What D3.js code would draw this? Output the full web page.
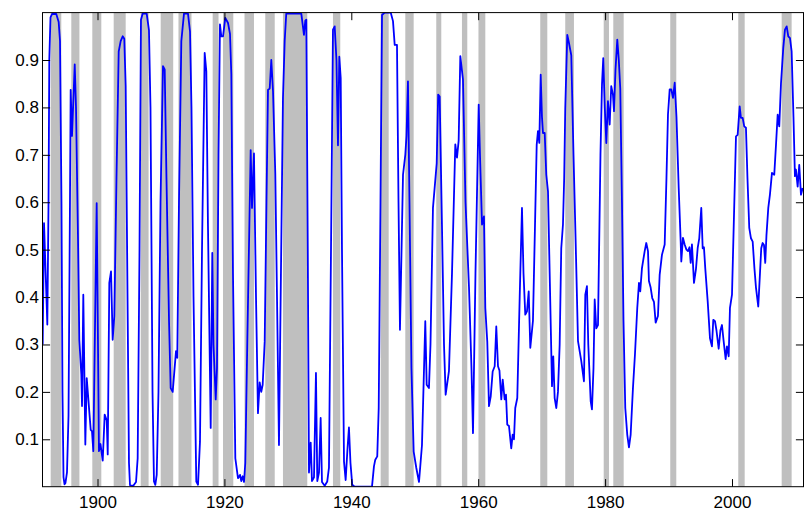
<!DOCTYPE html>
<html><head><meta charset="utf-8">
<script src="https://cdn.jsdelivr.net/npm/d3@7"></script>
<style>
body{margin:0;background:#fff}
svg{display:block}
text{font-family:"Liberation Sans",Arial,sans-serif}
</style>
</head><body>
<svg id="c" width="804" height="511"></svg>
<script>
// ---- data (year, probability) ----
const p1890s = [[1891.36,0.30],[1891.57,0.556],[1892.09,0.342],[1892.28,0.60],[1892.40,0.90],[1892.59,0.99],[1892.83,0.997],[1893.50,0.997],[1893.88,0.98],[1894.09,0.94],[1894.32,0.60],[1894.48,0.20],[1894.64,0.02],[1894.80,0.005],[1894.95,0.008],[1895.19,0.03],[1895.43,0.15],[1895.66,0.60],[1895.77,0.837],[1895.98,0.74],[1896.41,0.891],[1896.61,0.80],[1896.93,0.52],[1897.13,0.31],[1897.45,0.236],[1897.56,0.17],[1897.76,0.405],[1898.08,0.089],[1898.30,0.229],[1898.93,0.12],[1899.13,0.117],[1899.34,0.075],[1899.87,0.598]];
const p1900s = [[1900.23,0.075],[1900.47,0.09],[1900.82,0.055],[1901.13,0.152],[1901.45,0.14],[1901.61,0.068],[1901.86,0.43],[1902.13,0.454],[1902.39,0.31],[1902.65,0.36],[1902.99,0.65],[1903.34,0.918],[1903.65,0.94],[1903.97,0.95],[1904.22,0.945],[1904.44,0.845],[1904.73,0.40],[1904.96,0.05],[1905.12,0.003],[1905.64,0.002],[1906.07,0.01],[1906.33,0.06],[1906.62,0.50],[1906.85,0.985],[1907.12,0.998],[1907.75,0.998],[1908.11,0.963],[1908.35,0.80],[1908.67,0.20],[1908.90,0.011],[1909.11,0.004],[1909.33,0.025],[1909.61,0.20],[1909.93,0.60]];
const p1910s = [[1910.32,0.887],[1910.59,0.88],[1910.87,0.65],[1911.27,0.35],[1911.53,0.208],[1911.85,0.20],[1912.37,0.286],[1912.57,0.272],[1912.84,0.60],[1913.21,0.94],[1913.63,0.998],[1914.26,0.998],[1914.58,0.96],[1914.81,0.80],[1915.13,0.40],[1915.57,0.011],[1915.84,0.004],[1916.15,0.095],[1916.47,0.50],[1916.89,0.915],[1917.15,0.876],[1917.41,0.55],[1917.84,0.124],[1918.09,0.493],[1918.28,0.30],[1918.63,0.184],[1918.83,0.25],[1919.07,0.70],[1919.30,0.975],[1919.51,0.95],[1919.78,0.95]];
const p1920s = [[1920.14,0.989],[1920.57,0.978],[1920.88,0.955],[1921.09,0.87],[1921.35,0.45],[1921.72,0.06],[1922.14,0.018],[1922.46,0.025],[1922.66,0.012],[1922.88,0.022],[1923.09,0.01],[1923.29,0.05],[1923.61,0.306],[1924.14,0.71],[1924.35,0.588],[1924.66,0.703],[1924.98,0.40],[1925.29,0.155],[1925.56,0.22],[1925.81,0.20],[1926.03,0.215],[1926.35,0.306],[1926.63,0.60],[1926.87,0.837],[1927.14,0.84],[1927.39,0.90],[1927.66,0.835],[1928.02,0.66],[1928.29,0.40],[1928.60,0.088],[1928.97,0.52],[1929.23,0.82],[1929.50,0.94],[1929.75,0.998]];
const p1930s = [[1932.12,0.998],[1932.54,0.953],[1932.75,0.983],[1932.91,0.985],[1933.14,0.50],[1933.33,0.03],[1933.60,0.093],[1933.80,0.012],[1934.12,0.02],[1934.43,0.24],[1934.64,0.012],[1934.91,0.03],[1935.17,0.145],[1935.38,0.010],[1935.81,0.002],[1936.21,0.011],[1936.48,0.04],[1936.80,0.50],[1937.11,0.964],[1937.38,0.971],[1937.66,0.90],[1937.90,0.72],[1938.11,0.907],[1938.33,0.862],[1938.53,0.50],[1938.85,0.053],[1939.11,0.014],[1939.40,0.08],[1939.63,0.125],[1939.87,0.05]];
const p1940s = [[1940.15,0.004],[1940.53,0.0],[1943.26,0.0],[1943.57,0.043],[1943.78,0.057],[1944.09,0.064],[1944.32,0.166],[1944.60,0.60],[1944.84,0.995],[1945.26,1.0],[1946.21,1.0],[1946.57,0.982],[1946.84,0.932],[1947.20,0.932],[1947.44,0.60],[1947.67,0.331],[1948.15,0.658],[1948.51,0.70],[1948.70,0.74],[1948.93,0.855],[1949.17,0.60],[1949.48,0.25],[1949.83,0.074]];
const p1950s = [[1950.24,0.04],[1950.67,0.01],[1951.14,0.088],[1951.66,0.349],[1951.88,0.215],[1952.24,0.208],[1952.48,0.30],[1952.87,0.588],[1953.46,0.682],[1953.69,0.827],[1953.93,0.823],[1954.29,0.55],[1954.61,0.30],[1954.87,0.194],[1955.39,0.244],[1955.87,0.45],[1956.39,0.722],[1956.66,0.694],[1956.92,0.73],[1957.18,0.908],[1957.60,0.859],[1958.00,0.60],[1958.55,0.42],[1958.94,0.25],[1959.18,0.113],[1959.57,0.45]];
const p1960s = [[1960.08,0.806],[1960.28,0.70],[1960.60,0.553],[1960.91,0.57],[1961.12,0.377],[1961.43,0.306],[1961.70,0.17],[1961.97,0.19],[1962.28,0.243],[1962.60,0.254],[1962.85,0.338],[1963.12,0.254],[1963.35,0.245],[1963.64,0.184],[1963.86,0.226],[1964.17,0.184],[1964.38,0.194],[1964.58,0.131],[1964.85,0.128],[1965.21,0.081],[1965.43,0.11],[1965.64,0.10],[1965.84,0.166],[1966.16,0.187],[1966.54,0.40],[1966.90,0.588],[1967.14,0.45],[1967.42,0.363],[1967.69,0.37],[1967.96,0.412],[1968.21,0.293],[1968.63,0.35],[1968.95,0.55],[1969.22,0.721],[1969.42,0.75],[1969.63,0.725],[1969.85,0.869]];
const p1970s = [[1970.05,0.78],[1970.21,0.746],[1970.48,0.746],[1970.73,0.658],[1971.00,0.623],[1971.31,0.42],[1971.63,0.212],[1971.83,0.275],[1972.05,0.187],[1972.31,0.166],[1972.57,0.20],[1972.84,0.30],[1973.09,0.503],[1973.36,0.553],[1973.55,0.65],[1973.72,0.798],[1974.04,0.953],[1974.26,0.939],[1974.67,0.91],[1975.02,0.70],[1975.36,0.517],[1975.73,0.307],[1976.25,0.265],[1976.67,0.222],[1976.88,0.405],[1977.14,0.423],[1977.35,0.30],[1977.73,0.18],[1977.93,0.163],[1978.17,0.25],[1978.36,0.395],[1978.61,0.334],[1978.88,0.341],[1979.27,0.70],[1979.51,0.848],[1979.71,0.904],[1979.95,0.80]];
const p1980s = [[1980.19,0.725],[1980.45,0.813],[1980.72,0.764],[1980.97,0.845],[1981.24,0.827],[1981.40,0.792],[1981.64,0.88],[1981.92,0.943],[1982.16,0.90],[1982.39,0.84],[1982.66,0.60],[1982.90,0.35],[1983.18,0.166],[1983.49,0.11],[1983.76,0.083],[1984.03,0.11],[1984.39,0.208],[1984.71,0.28],[1985.07,0.377],[1985.34,0.43],[1985.54,0.412],[1985.81,0.461],[1986.24,0.497],[1986.49,0.514],[1986.76,0.497],[1986.91,0.434],[1987.18,0.42],[1987.43,0.398],[1987.70,0.39],[1987.97,0.346],[1988.33,0.36],[1988.60,0.447],[1988.96,0.489],[1989.39,0.511],[1989.67,0.65],[1989.91,0.785]];
const p1990s = [[1990.18,0.838],[1990.43,0.838],[1990.70,0.82],[1990.97,0.852],[1991.25,0.78],[1991.60,0.63],[1991.91,0.518],[1992.01,0.475],[1992.27,0.525],[1992.54,0.511],[1992.82,0.50],[1993.06,0.497],[1993.30,0.505],[1993.49,0.472],[1993.69,0.511],[1994.01,0.43],[1994.32,0.459],[1994.59,0.503],[1994.84,0.524],[1995.16,0.588],[1995.38,0.503],[1995.58,0.505],[1995.79,0.46],[1996.17,0.391],[1996.53,0.313],[1996.84,0.296],[1997.05,0.352],[1997.32,0.349],[1997.55,0.33],[1997.90,0.291],[1998.18,0.33],[1998.42,0.341],[1998.66,0.31],[1999.00,0.269],[1999.21,0.296],[1999.48,0.275],[1999.68,0.377]];
const p2000s = [[2000.00,0.405],[2000.31,0.57],[2000.63,0.739],[2000.89,0.742],[2001.21,0.802],[2001.41,0.778],[2001.68,0.778],[2001.93,0.76],[2002.20,0.757],[2002.44,0.65],[2002.72,0.546],[2002.99,0.524],[2003.26,0.517],[2003.54,0.46],[2003.78,0.42],[2004.14,0.38],[2004.41,0.45],[2004.61,0.503],[2004.83,0.514],[2005.04,0.51],[2005.24,0.472],[2005.43,0.53],[2005.72,0.588],[2005.98,0.616],[2006.30,0.662],[2006.66,0.658],[2006.93,0.72],[2007.20,0.785],[2007.45,0.76],[2007.72,0.85],[2008.08,0.925],[2008.35,0.964],[2008.62,0.971],[2008.87,0.95],[2009.14,0.946],[2009.40,0.918],[2009.69,0.78],[2009.92,0.655],[2010.08,0.669],[2010.35,0.633],[2010.60,0.679],[2010.87,0.616],[2011.14,0.63]];

// recession periods (start, end) in years
const recessionStart = [1892.62,1895.87,1899.18,1902.55,1906.81,1909.96,1912.76,1918.15,1919.78,1923.17,1926.44,1929.23,1937.11,1944.63,1948.51,1953.39,1957.44,1960.04,1969.78,1973.72,1979.78,1981.29,1990.27,2000.99,2007.83];
const recessionEnd   = [1894.29,1897.15,1900.60,1904.44,1908.05,1911.93,1914.81,1919.07,1921.40,1924.66,1927.93,1933.06,1938.26,1945.89,1949.83,1954.18,1958.28,1961.12,1970.89,1975.09,1980.61,1982.93,1991.22,2002.00,2009.40];

const xTicks = [1900,1920,1940,1960,1980,2000];
const yTicks = [0.1,0.2,0.3,0.4,0.5,0.6,0.7,0.8,0.9];
const xDomain = [1891.33, 2011.27];
const yDomain = [0, 1];

// ---- drawing ----
const series = [].concat(p1890s,p1900s,p1910s,p1920s,p1930s,p1940s,p1950s,p1960s,p1970s,p1980s,p1990s,p2000s);
const L = 42.5, R = 803.5, T = 12.6, B = 486.7;
const svg = d3.select('#c');
const x = d3.scaleLinear().domain(xDomain).range([L, R]);
const y = d3.scaleLinear().domain(yDomain).range([B, T]);

svg.append('defs').append('clipPath').attr('id','clip')
  .append('rect').attr('x',L).attr('y',T).attr('width',R-L).attr('height',B-T);

const plot = svg.append('g').attr('clip-path','url(#clip)');
plot.selectAll('rect.rec').data(recessionStart.map((s,i)=>[s,recessionEnd[i]]))
  .enter().append('rect').attr('class','rec')
  .attr('x',d=>x(d[0])).attr('width',d=>x(d[1])-x(d[0]))
  .attr('y',T).attr('height',B-T)
  .attr('fill','#bfbfbf');

const line = d3.line().x(d=>x(d[0])).y(d=>y(d[1]));
plot.append('path').datum(series).attr('d',line)
  .attr('fill','none').attr('stroke','#0000ff').attr('stroke-width',1.8)
  .attr('stroke-linejoin','round');

const tk = 7.6;
const fs = '17px';
const ax = (g)=>{ g.select('.domain').remove(); g.selectAll('line').attr('stroke','#000'); };
svg.append('g').attr('transform',`translate(0,${B})`)
  .call(d3.axisBottom(x).tickValues(xTicks).tickFormat(d3.format('d')).tickSizeInner(-tk).tickSizeOuter(0).tickPadding(9))
  .call(ax).selectAll('text').attr('font-size',fs).attr('fill','#000').attr('font-family','"Liberation Sans",Arial,sans-serif');
svg.append('g').attr('transform',`translate(0,${T})`)
  .call(d3.axisTop(x).tickValues(xTicks).tickFormat('').tickSizeInner(-tk).tickSizeOuter(0))
  .call(ax);
svg.append('g').attr('transform',`translate(${L},0)`)
  .call(d3.axisLeft(y).tickValues(yTicks).tickFormat(d3.format('.1f')).tickSizeInner(-tk).tickSizeOuter(0).tickPadding(3.5))
  .call(ax).selectAll('text').attr('font-size',fs).attr('fill','#000').attr('font-family','"Liberation Sans",Arial,sans-serif');
svg.append('g').attr('transform',`translate(${R},0)`)
  .call(d3.axisRight(y).tickValues(yTicks).tickFormat('').tickSizeInner(-tk).tickSizeOuter(0))
  .call(ax);

svg.append('rect').attr('x',L).attr('y',T).attr('width',R-L).attr('height',B-T)
  .attr('fill','none').attr('stroke','#000').attr('stroke-width',1);
</script>
</body></html>
